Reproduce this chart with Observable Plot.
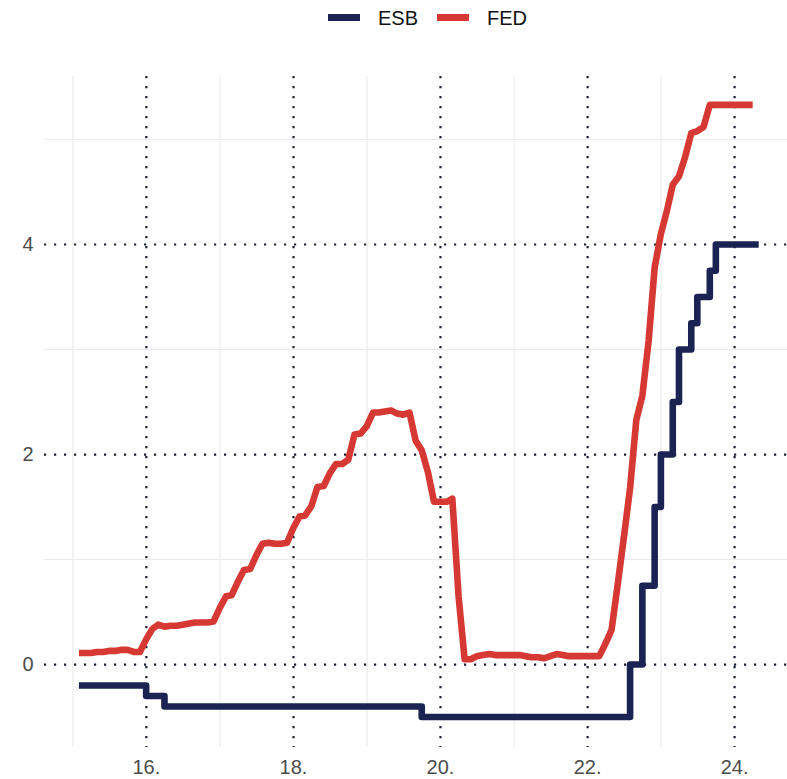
<!DOCTYPE html>
<html>
<head>
<meta charset="utf-8">
<script src="https://cdn.jsdelivr.net/npm/d3@7"></script>
<script src="https://cdn.jsdelivr.net/npm/@observablehq/plot@0.6"></script>
<style>
  html, body { margin: 0; padding: 0; background: #fff; }
  body { width: 787px; height: 779px; overflow: hidden; font-family: "Liberation Sans", Arial, sans-serif; }
  #legend { position: relative; height: 36px; }
  #legend .items { position: absolute; left: 328px; top: 0; height: 36px; display: flex; align-items: center; }
  #legend .sw { width: 32px; height: 7px; margin-right: 18px; margin-top: -2px; }
  #legend .lab { font-size: 20px; color: #111; margin-right: 19px; line-height: 36px; }
</style>
</head>
<body>
<div id="legend"><div class="items"></div></div>
<div id="chart"></div>
<script>
// ---- data ----
const seriesNames = ["ESB", "FED"];
const seriesColors = ["#1a2352", "#d63833"];

// ECB deposit rate (month-end change points, step function)
const esbDates = ["2015-01-31","2015-12-31","2016-03-31","2019-09-30","2022-07-31","2022-09-30",
                  "2022-11-30","2022-12-31","2023-02-28","2023-03-31","2023-05-31","2023-06-30",
                  "2023-08-31","2023-09-30","2024-04-30"];
const esbValues = [-0.2,-0.3,-0.4,-0.5,0,0.75,1.5,2.0,2.5,3.0,3.25,3.5,3.75,4.0,4.0];

// Fed effective funds rate, monthly from Jan 2015 (month-end)
const fedStart = "2015-01";
const fedValues = [
  0.11,0.11,0.11,0.12,0.12,0.13,0.13,0.14,0.14,0.12,0.12,0.24,
  0.34,0.38,0.36,0.37,0.37,0.38,0.39,0.40,0.40,0.40,0.41,0.54,
  0.65,0.66,0.79,0.90,0.91,1.04,1.15,1.16,1.15,1.15,1.16,1.30,
  1.41,1.42,1.51,1.69,1.70,1.82,1.91,1.91,1.95,2.19,2.20,2.27,
  2.40,2.40,2.41,2.42,2.39,2.38,2.40,2.13,2.04,1.83,1.55,1.55,
  1.55,1.58,0.65,0.05,0.05,0.08,0.09,0.10,0.09,0.09,0.09,0.09,
  0.09,0.08,0.07,0.07,0.06,0.08,0.10,0.09,0.08,0.08,0.08,0.08,
  0.08,0.08,0.20,0.33,0.77,1.21,1.68,2.33,2.56,3.08,3.78,4.10,
  4.33,4.57,4.65,4.83,5.06,5.08,5.12,5.33,5.33,5.33,5.33,5.33,
  5.33,5.33,5.33
];

const xTickYears = [2016, 2018, 2020, 2022, 2024];
const xTickLabels = ["16.", "18.", "20.", "22.", "24."];
const xMinorYears = [2015, 2017, 2019, 2021, 2023];
const yTicks = [0, 2, 4];
const yMinor = [1, 3, 5];

// ---- build tables ----
const parse = d3.utcParse("%Y-%m-%d");
const esb = esbDates.map((d, i) => ({date: parse(d), value: esbValues[i], series: "ESB"}));
const fed0 = d3.utcParse("%Y-%m")(fedStart);
const fed = fedValues.map((v, i) => ({
  date: d3.utcDay.offset(d3.utcMonth.offset(fed0, i + 1), -1),
  value: v, series: "FED"
}));
const yearDate = y => new Date(Date.UTC(y, 0, 1));

// ---- legend ----
const items = document.querySelector("#legend .items");
seriesNames.forEach((n, i) => {
  const sw = document.createElement("div");
  sw.className = "sw"; sw.style.background = seriesColors[i];
  const lab = document.createElement("div");
  lab.className = "lab"; lab.textContent = n;
  items.appendChild(sw); items.appendChild(lab);
});

// ---- chart ----
const dotColor = "#1d2333";
const chart = Plot.plot({
  width: 787,
  height: 743,
  marginLeft: 44,
  marginRight: 0,
  marginTop: 40,
  marginBottom: 32,
  style: {fontFamily: "'Liberation Sans', Arial, sans-serif", fontSize: "20px", color: "#4d4d4d", background: "#fff"},
  x: {type: "utc", domain: [new Date(Date.UTC(2014, 7, 13)), new Date(Date.UTC(2024, 8, 20))]},
  y: {domain: [-0.79, 5.6]},
  marks: [
    Plot.ruleX(xMinorYears.map(yearDate), {stroke: "#ebebeb", strokeWidth: 1.1}),
    Plot.ruleY(yMinor, {stroke: "#ebebeb", strokeWidth: 1.1}),
    Plot.ruleX(xTickYears.map(yearDate), {stroke: dotColor, strokeWidth: 2.2, strokeDasharray: "2.2,7.8"}),
    Plot.ruleY(yTicks, {stroke: dotColor, strokeWidth: 2.2, strokeDasharray: "2.2,7.8"}),
    Plot.line(esb, {x: "date", y: "value", stroke: seriesColors[0], strokeWidth: 6.6, curve: "step-after", strokeLinejoin: "round", strokeLinecap: "butt"}),
    Plot.line(fed, {x: "date", y: "value", stroke: seriesColors[1], strokeWidth: 6.6, strokeLinejoin: "round", strokeLinecap: "butt"}),
    Plot.axisX(xTickYears.map(yearDate), {
      tickSize: 0, tickPadding: 12, fontSize: 20, fill: "#4d4d4d",
      tickFormat: d => xTickLabels[xTickYears.indexOf(d.getUTCFullYear())], label: null
    }),
    Plot.axisY(yTicks, {tickSize: 0, tickPadding: 11, fontSize: 20, fill: "#4d4d4d", tickFormat: d => String(d), label: null})
  ]
});
document.getElementById("chart").appendChild(chart);
</script>
</body>
</html>
